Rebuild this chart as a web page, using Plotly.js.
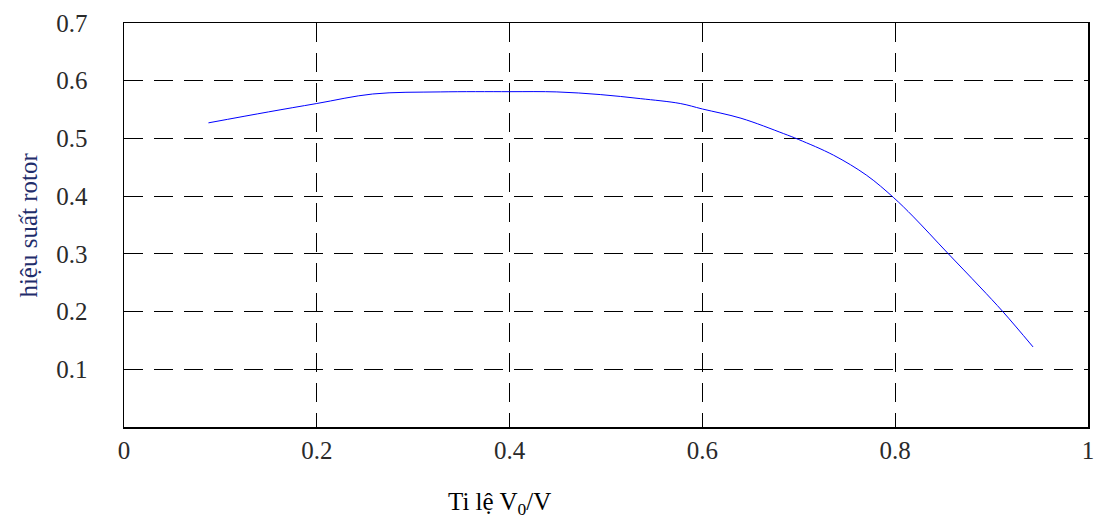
<!DOCTYPE html>
<html>
<head>
<meta charset="utf-8">
<script src="https://cdn.plot.ly/plotly-3.0.1.min.js"></script>
<style>html,body{margin:0;padding:0;background:#fff;}#chart{width:1103px;height:520px;}</style>
</head>
<body>
<div id="chart"></div>
<script>
const ratio = [0.0876, 0.15, 0.2, 0.258, 0.328, 0.4, 0.449, 0.494, 0.5355, 0.577, 0.6, 0.64, 0.684, 0.7, 0.736, 0.7705, 0.798, 0.819, 0.8535, 0.888, 0.912, 0.943];
const efficiency = [0.527, 0.546, 0.5605, 0.577, 0.5806, 0.581, 0.5806, 0.576, 0.569, 0.5605, 0.551, 0.535, 0.5085, 0.498, 0.471, 0.436, 0.398, 0.364, 0.303, 0.2426, 0.1993, 0.1387];
const xTickVals = [0, 0.2, 0.4, 0.6, 0.8, 1];
const xTickText = ['0', '0.2', '0.4', '0.6', '0.8', '1'];
const yTickVals = [0.1, 0.2, 0.3, 0.4, 0.5, 0.6, 0.7];
const yTickText = ['0.1', '0.2', '0.3', '0.4', '0.5', '0.6', '0.7'];

const font = 'Liberation Serif, Times New Roman, serif';
const trace = {
  x: ratio, y: efficiency, type: 'scatter', mode: 'lines',
  line: {color: '#0000ff', width: 1, shape: 'spline', smoothing: 1},
  hoverinfo: 'skip'
};
const axisCommon = {
  showline: true, linecolor: '#000', linewidth: 1.5, mirror: true,
  showgrid: true, gridcolor: '#000', gridwidth: 1, griddash: '19px,11px',
  zeroline: false, ticks: '', tickfont: {family: font, size: 25, color: '#2a2a2a'},
  tickmode: 'array'
};
const layout = {
  width: 1103, height: 520,
  margin: {l: 123.5, r: 15, t: 22.7, b: 93.3},
  paper_bgcolor: '#fff', plot_bgcolor: '#fff',
  showlegend: false,
  xaxis: Object.assign({}, axisCommon, {range: [0, 1], tickvals: xTickVals, ticktext: xTickText, ticklabelstandoff: 0}),
  yaxis: Object.assign({}, axisCommon, {range: [0, 0.7], tickvals: yTickVals, ticktext: yTickText, ticklabelstandoff: 30}),
  annotations: [
    {text: 'Ti lệ V<sub>0</sub>/V', xref: 'paper', yref: 'paper', x: (499 - 123.5) / 964.5, y: -0.19,
     xanchor: 'center', yanchor: 'middle', showarrow: false, font: {family: font, size: 25, color: '#000'}},
    {text: 'hiệu suất rotor', xref: 'paper', yref: 'paper', x: -0.1, y: 0.5, textangle: -90,
     xanchor: 'center', yanchor: 'middle', showarrow: false, font: {family: font, size: 25, color: '#1f2d6b'}}
  ]
};
Plotly.newPlot('chart', [trace], layout, {displayModeBar: false, staticPlot: true});
</script>
</body>
</html>
